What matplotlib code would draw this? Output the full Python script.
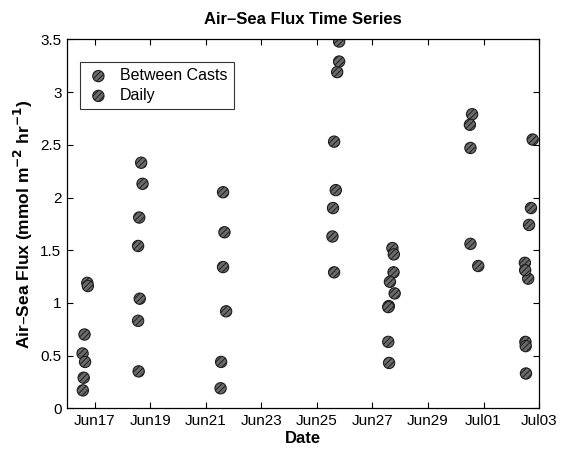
import matplotlib
matplotlib.use("Agg")
import matplotlib.pyplot as plt
import numpy as np

plt.rcParams['font.family'] = ['Liberation Sans', 'DejaVu Sans']
plt.rcParams['hatch.linewidth'] = 0.7

# x values: day of June (July 1 = 31)
between_day = [16.73, 16.63, 16.56, 16.65, 16.60, 16.57,
               18.67, 18.72, 18.60, 18.56, 18.62, 18.56, 18.58,
               21.62, 21.67, 21.62, 21.73, 21.55, 21.53,
               25.80, 25.73, 25.62, 25.68, 25.58, 25.56, 25.62,
               27.72, 27.76, 27.63, 27.80, 27.59, 27.57, 27.60,
               30.59, 30.51, 30.53, 30.53, 30.81,
               32.77, 32.71, 32.64, 32.49, 32.61, 32.51, 32.53]
between_flux = [1.19, 0.70, 0.52, 0.44, 0.29, 0.17,
                2.33, 2.13, 1.81, 1.54, 1.04, 0.83, 0.35,
                2.05, 1.67, 1.34, 0.92, 0.44, 0.19,
                3.48, 3.19, 2.53, 2.07, 1.90, 1.63, 1.29,
                1.52, 1.29, 1.20, 1.09, 0.97, 0.63, 0.43,
                2.79, 2.69, 2.47, 1.56, 1.35,
                2.55, 1.90, 1.74, 1.38, 1.23, 0.63, 0.33]

daily_day = [16.75, 25.80, 27.77, 27.57, 32.50, 32.52]
daily_flux = [1.16, 3.29, 1.46, 0.96, 1.31, 0.59]

tick_days = [17, 19, 21, 23, 25, 27, 29, 31, 33]
tick_labels = ['Jun17', 'Jun19', 'Jun21', 'Jun23', 'Jun25', 'Jun27', 'Jun29', 'Jul01', 'Jul03']
y_ticks = [0, 0.5, 1, 1.5, 2, 2.5, 3, 3.5]
y_labels = ['0', '0.5', '1', '1.5', '2', '2.5', '3', '3.5']

fig = plt.figure(figsize=(5.68, 4.5), dpi=100)
ax = fig.add_axes([0.118, 0.0927, 0.831, 0.8197])

mk = dict(marker='o', s=66, facecolor='#6a6a6a', edgecolor='#1e1e1e', linewidths=0.8, hatch='//////')
ax.scatter(between_day, between_flux, label='Between Casts', **mk)
ax.scatter(daily_day, daily_flux, label='Daily', **mk)

ax.set_xlim(16, 33)
ax.set_ylim(0, 3.5)
ax.set_xticks(tick_days)
ax.set_xticklabels(tick_labels)
ax.set_yticks(y_ticks)
ax.set_yticklabels(y_labels)
ax.tick_params(direction='in', top=True, right=True, labelsize=11, length=4, width=0.8, pad=4)
for sp in ax.spines.values():
    sp.set_linewidth(0.9)

ax.set_title('Air\u2013Sea Flux Time Series', fontsize=12, fontweight='bold', pad=11)
ax.set_xlabel('Date', fontsize=12, fontweight='bold', labelpad=2)
ax.set_ylabel('Air\u2013Sea Flux (mmol m$^{\\mathbf{-2}}$ hr$^{\\mathbf{-1}}$)', fontsize=12.5, fontweight='bold', labelpad=4)

leg = ax.legend(loc='upper left', bbox_to_anchor=(0.0275, 0.939), borderaxespad=0, fontsize=11.5, frameon=True,
                fancybox=False, edgecolor='black', handletextpad=0.6, borderpad=0.4,
                labelspacing=0.3, handlelength=1.5)
leg.get_frame().set_linewidth(0.8)

fig.savefig('out.png', dpi=100)
